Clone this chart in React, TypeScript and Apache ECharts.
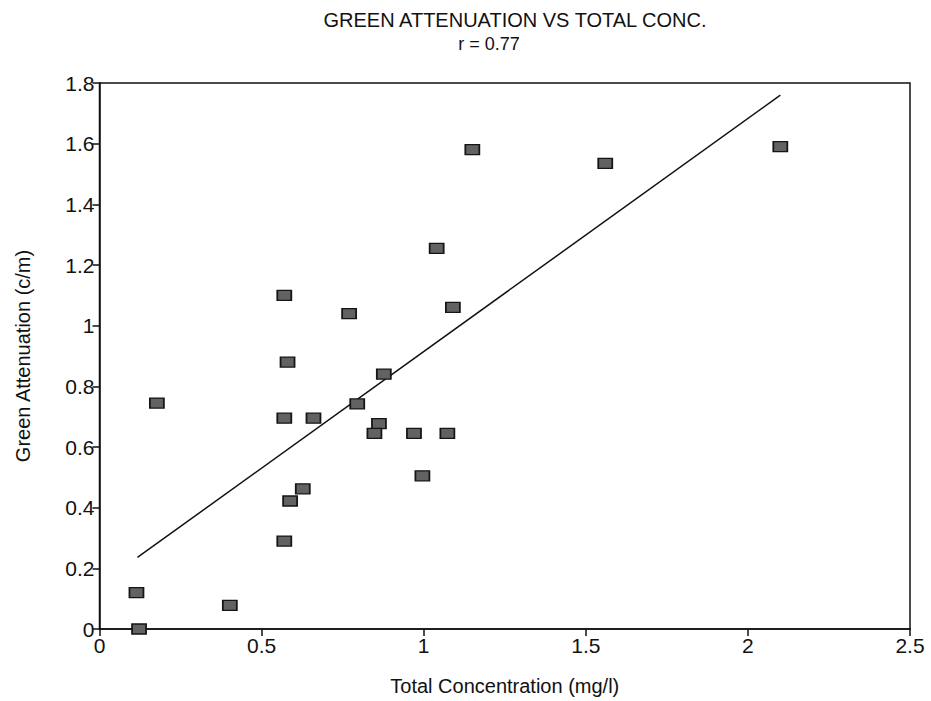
import React, { useEffect, useRef } from "react";
import * as echarts from "echarts";

const xValues = [0.57, 0.77, 1.15, 1.56, 1.04, 1.09, 2.1, 0.58, 0.177, 0.57, 0.66, 0.795, 0.877, 0.862, 0.848, 0.627, 0.588, 0.57, 0.114, 0.402, 0.122, 0.97, 1.073, 0.996];
const yValues = [1.1, 1.04, 1.58, 1.535, 1.255, 1.06, 1.59, 0.88, 0.745, 0.695, 0.695, 0.742, 0.84, 0.677, 0.645, 0.462, 0.422, 0.29, 0.12, 0.078, 0.0, 0.645, 0.645, 0.505];
const fitX = [0.117, 2.1];
const fitY = [0.236, 1.76];
const titleText = "GREEN ATTENUATION VS TOTAL CONC.";
const subText = "r = 0.77";
const xName = "Total Concentration (mg/l)";
const yName = "Green Attenuation (c/m)";

const FONT = "'Liberation Sans', Arial, Helvetica, sans-serif";

export default function App() {
  const ref = useRef<HTMLDivElement>(null);
  useEffect(() => {
    if (!ref.current) return;
    const chart = echarts.init(ref.current, undefined, { renderer: "svg" });
    const pts = xValues.map((x, i) => [x, yValues[i]]);
    const fit = fitX.map((x, i) => [x, fitY[i]]);
    chart.setOption({
      animation: false,
      backgroundColor: "#ffffff",
      textStyle: { fontFamily: FONT, color: "#111" },
      title: [
        {
          text: titleText,
          left: 510,
          top: 5,
          textAlign: "center",
          textStyle: { fontFamily: FONT, fontSize: 20, fontWeight: "normal", color: "#111" },
        },
        {
          text: subText,
          left: 484,
          top: 30,
          textAlign: "center",
          textStyle: { fontFamily: FONT, fontSize: 18, fontWeight: "normal", color: "#111" },
        },
      ],
      grid: {
        left: 99.5,
        top: 83,
        width: 810.5,
        height: 549,
        show: true,
        borderColor: "#111",
        borderWidth: 1.5,
        backgroundColor: "transparent",
      },
      xAxis: {
        type: "value",
        min: 0,
        max: 2.5,
        interval: 0.5,
        name: xName,
        nameLocation: "middle",
        nameGap: 47,
        nameTextStyle: { fontFamily: FONT, fontSize: 20, color: "#111" },
        axisLine: { show: true, onZero: false, lineStyle: { color: "#111", width: 1.5 } },
        axisTick: { show: true, inside: false, length: 7, lineStyle: { color: "#111", width: 1.5 } },
        axisLabel: { fontFamily: FONT, fontSize: 21, color: "#111", margin: 6 },
        splitLine: { show: false },
      },
      yAxis: {
        type: "value",
        min: 0,
        max: 1.8,
        interval: 0.2,
        name: yName,
        nameLocation: "middle",
        nameGap: 67,
        nameTextStyle: { fontFamily: FONT, fontSize: 20, color: "#111" },
        axisLine: { show: true, onZero: false, lineStyle: { color: "#111", width: 1.5 } },
        axisTick: { show: true, inside: false, length: 7, lineStyle: { color: "#111", width: 1.5 } },
        axisLabel: { fontFamily: FONT, fontSize: 21, color: "#111", margin: 5 },
        splitLine: { show: false },
      },
      series: [
        {
          type: "line",
          data: fit,
          symbol: "none",
          lineStyle: { color: "#111", width: 1.5 },
          z: 2,
        },
        {
          type: "scatter",
          data: pts,
          symbol: "rect",
          symbolSize: [14, 10],
          itemStyle: { color: "#626262", borderColor: "#151515", borderWidth: 1.5, opacity: 1 },
          z: 3,
        },
      ],
    });
    return () => chart.dispose();
  }, []);
  return (
    <div
      ref={ref}
      style={{ position: "fixed", left: 0, top: 0, width: 931, height: 701, background: "#fff" }}
    />
  );
}
